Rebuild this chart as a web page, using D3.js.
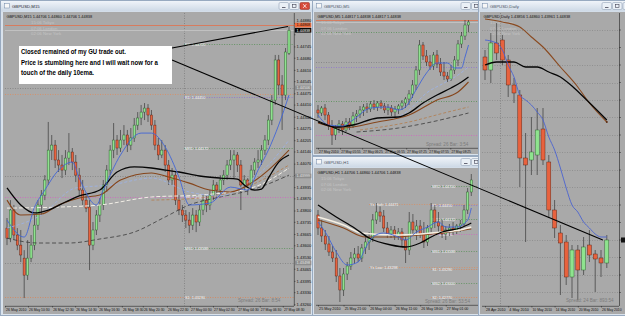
<!DOCTYPE html>
<html>
<head>
<meta charset="utf-8">
<style>
body{margin:0;background:#cfd9e4;overflow:hidden;}
svg{display:block;}
</style>
</head>
<body>
<script src="https://cdn.jsdelivr.net/npm/d3@7/dist/d3.min.js"></script>
<script>
// ---------- M15 ----------
const m15Candles = [
 [1.43699,1.43757,1.43601,1.43641],[1.43641,1.43860,1.43618,1.43803],[1.43803,1.43832,1.43630,1.43659],[1.43659,1.43699,1.43572,1.43601],
 [1.43601,1.43688,1.43503,1.43544],[1.43526,1.43572,1.43296,1.43428],[1.43428,1.43630,1.43400,1.43526],[1.43526,1.43659,1.43503,1.43601],
 [1.43601,1.43774,1.43572,1.43716],[1.43716,1.43860,1.43688,1.43832],[1.43832,1.43918,1.43774,1.43889],[1.43889,1.44004,1.43860,1.43976],
 [1.43976,1.44310,1.43947,1.44148],[1.44148,1.44235,1.44091,1.44177],[1.44177,1.44206,1.44045,1.44091],[1.44091,1.44148,1.44022,1.44062],
 [1.44062,1.44120,1.43987,1.44033],[1.44033,1.44148,1.44004,1.44102],[1.44102,1.44246,1.44062,1.44137],[1.44137,1.44160,1.44033,1.44079],
 [1.44079,1.44120,1.43964,1.44004],[1.44004,1.44045,1.43889,1.43918],[1.43918,1.43976,1.43832,1.43860],[1.43860,1.43889,1.43791,1.43814],
 [1.43820,1.43860,1.43457,1.43601],[1.43601,1.43734,1.43572,1.43688],[1.43688,1.43803,1.43659,1.43774],[1.43774,1.43872,1.43734,1.43832],
 [1.43832,1.43976,1.43803,1.43947],[1.43947,1.44062,1.43907,1.44033],[1.44033,1.44177,1.44004,1.44148],[1.44148,1.44304,1.44102,1.44206],
 [1.44206,1.44235,1.44120,1.44160],[1.44160,1.44264,1.44137,1.44206],[1.44206,1.44292,1.44177,1.44235],[1.44235,1.44264,1.44137,1.44177],
 [1.44177,1.44275,1.44148,1.44218],[1.44218,1.44333,1.44195,1.44292],[1.44292,1.44367,1.44264,1.44333],[1.44333,1.44408,1.44292,1.44367],
 [1.44367,1.44419,1.44321,1.44390],[1.44390,1.44413,1.44310,1.44350],[1.44350,1.44379,1.44264,1.44292],[1.44292,1.44321,1.44148,1.44177],
 [1.44177,1.44218,1.44091,1.44120],[1.44120,1.44206,1.44102,1.44148],[1.44148,1.44177,1.44022,1.44062],[1.44062,1.44091,1.43947,1.43976],
 [1.43976,1.44045,1.43947,1.44004],[1.44004,1.44022,1.43832,1.43860],[1.43860,1.43889,1.43774,1.43803],[1.43803,1.43832,1.43734,1.43774],
 [1.43774,1.43803,1.43699,1.43745],[1.43745,1.43791,1.43670,1.43716],[1.43716,1.43814,1.43688,1.43774],[1.43774,1.43803,1.43676,1.43734],
 [1.43734,1.43832,1.43711,1.43803],[1.43803,1.43889,1.43774,1.43860],[1.43860,1.43884,1.43791,1.43832],[1.43832,1.43918,1.43803,1.43889],
 [1.43889,1.43976,1.43860,1.43947],[1.43947,1.43964,1.43872,1.43918],[1.43918,1.44004,1.43895,1.43976],[1.43976,1.44033,1.43947,1.44004],
 [1.44004,1.44091,1.43976,1.44062],[1.44062,1.44148,1.44033,1.44091],[1.44091,1.44148,1.43987,1.44120],[1.44120,1.44137,1.44022,1.44062],
 [1.44062,1.44091,1.43803,1.43947],[1.43947,1.44004,1.43918,1.43976],[1.43976,1.43987,1.43889,1.43947],[1.43947,1.44062,1.43918,1.44033],
 [1.44033,1.44102,1.44004,1.44079],[1.44079,1.44148,1.44045,1.44091],[1.44091,1.44177,1.44062,1.44148],[1.44148,1.44235,1.44120,1.44206],
 [1.44206,1.44350,1.44177,1.44321],[1.44321,1.44465,1.44292,1.44436],[1.44436,1.44696,1.44408,1.44667],[1.44667,1.44696,1.44465,1.44523],
 [1.44523,1.44580,1.44264,1.44465],[1.44465,1.44736,1.44436,1.44713],[1.44706,1.44860,1.44696,1.44838]
];
const m15PriceTicks = [1.44880,1.44815,1.44745,1.44680,1.44610,1.44545,1.44475,1.44410,1.44340,1.44275,1.44205,1.44140,1.44070,
  1.44005,1.43935,1.43870,1.43800,1.43735,1.43665,1.43600,1.43530,1.43465,1.43395,1.43330,1.43260];
const m15TimeLabels = ["26 May 2010","26 May 10:30","26 May 12:30","26 May 14:30","26 May 16:30","26 May 18:30","26 May 20:30",
  "26 May 22:30","27 May 00:30","27 May 02:30","27 May 04:30","27 May 06:30","27 May 08:30"];
const m15TimeIdx = [-0.6,6.1,13.1,19.8,26.5,33.4,39.5,46.5,53.2,59.9,66.9,73.5,80.2];
const m15DayStart = 51.5;
const m15Blue = [[0,1.43745],[5,1.43647],[8,1.43820],[11,1.43918],[15,1.44033],[19,1.44079],[21,1.43987],[26,1.43832],[28,1.43918],
  [33,1.44120],[39,1.44246],[42,1.44246],[46,1.44166],[50,1.43993],[53,1.43832],[59,1.43843],[65,1.43935],[70,1.43918],[73,1.44033],
  [76,1.44148],[79,1.44292],[82,1.44465]];
const m15Black = [[0,1.43930],[4,1.43832],[8,1.43786],[12,1.43803],[17,1.43849],[21,1.43884],[27,1.43918],[32,1.44022],[37,1.44051],
  [42,1.44045],[46,1.44033],[50,1.44022],[56,1.43999],[62,1.43987],[67,1.43981],[69,1.43947],[72,1.43918],[74,1.43924],[76,1.43987],
  [79,1.44079],[82,1.44120]];
const m15Brown = [[0,1.43860],[4,1.43774],[10,1.43780],[15,1.43832],[21,1.43872],[27,1.43889],[33,1.43976],[42,1.44016],[47,1.43993],
  [53,1.43958],[59,1.43918],[65,1.43907],[71,1.43958],[76,1.44033],[80,1.44108],[82,1.44148]];
const m15LightBlue = [[0,1.43699],[10,1.43774],[20,1.43930],[30,1.43947],[42,1.43987],[53,1.43907],[62,1.43884],[71,1.43976],[76,1.44062],[82,1.44206]];
const m15WhiteDash = [[0,1.43814],[15,1.43820],[27,1.43832],[42,1.43878],[56,1.43889],[71,1.43930],[82,1.44045]];
const m15DarkDash = [[0,1.43641],[9,1.43613],[18,1.43613],[27,1.43636],[37,1.43676],[46,1.43763],[53,1.43832],[62,1.43878],[71,1.43918],[82,1.44004]];
const m15TanDash = [[42,1.43860],[56,1.43872],[71,1.43947],[82,1.44062]];
const m15Levels = [
  ["top",1.44868,"","all"],["bid",1.44838,"","all"],["R2",1.44759,"R2: 1.44755","day"],["H",1.44506,"","all"],
  ["YxHigh",1.44471,"","all"],["R1",1.44454,"R1: 1.44450","day"],["MR1",1.44160,"MR1: 1.44172","day"],["H",1.43999,"","all"],
  ["PP",1.43878,"PP: 1.43880","all"],["MS1",1.43584,"MS1: 1.43588","day"],["H",1.43498,"","all"],["S1",1.43302,"S1: 1.43290","all"]
];

// ---------- M5 ----------
const m5Candles = [
 [1.4394,1.4399,1.4386,1.4391],[1.4391,1.4398,1.4388,1.4396],[1.4396,1.4400,1.4384,1.4389],[1.4389,1.4392,1.4374,1.4378],
 [1.4378,1.4384,1.4359,1.4369],[1.4369,1.4379,1.4364,1.4376],[1.4376,1.4384,1.4371,1.4380],[1.4380,1.4383,1.4369,1.4374],
 [1.4374,1.4386,1.4372,1.4382],[1.4382,1.4386,1.4374,1.4378],[1.4378,1.4392,1.4376,1.4388],[1.4388,1.4394,1.4382,1.4390],
 [1.4390,1.4398,1.4386,1.4394],[1.4394,1.4400,1.4388,1.4397],[1.4397,1.4401,1.4391,1.4395],[1.4395,1.4403,1.4392,1.4400],
 [1.4400,1.4404,1.4394,1.4397],[1.4397,1.4403,1.4393,1.4401],[1.4401,1.4404,1.4395,1.4398],[1.4398,1.4401,1.4391,1.4394],
 [1.4394,1.4400,1.4389,1.4396],[1.4396,1.4399,1.4388,1.4392],[1.4392,1.4398,1.4386,1.4395],[1.4395,1.4400,1.4390,1.4398],
 [1.4398,1.4404,1.4394,1.4401],[1.4401,1.4407,1.4396,1.4405],[1.4405,1.4414,1.4399,1.4410],[1.4410,1.4424,1.4406,1.4419],
 [1.4419,1.4438,1.4414,1.4434],[1.4434,1.4464,1.4429,1.4459],[1.4459,1.4462,1.4444,1.4448],[1.4448,1.4454,1.4438,1.4442],
 [1.4442,1.4449,1.4434,1.4438],[1.4438,1.4452,1.4434,1.4449],[1.4449,1.4454,1.4436,1.4440],[1.4440,1.4446,1.4428,1.4432],
 [1.4432,1.4442,1.4424,1.4428],[1.4428,1.4432,1.4422,1.4425],[1.4425,1.4439,1.4423,1.4434],[1.4434,1.4448,1.4430,1.4444],
 [1.4444,1.4464,1.4438,1.4460],[1.4460,1.4472,1.4456,1.4468],[1.4468,1.4484,1.4464,1.4479],[1.4479,1.4484,1.4472,1.4482]
];
const m5TimeLabels = ["27 May 2010","27 May 05:55","27 May 06:25","27 May 06:55","27 May 07:25","27 May 07:55","27 May 08:25"];
const m5TimeIdx = [0,6.3,12.6,18.9,25.2,31.5,37.8];
const m5Blue = [[0,1.4389],[3,1.4379],[7,1.4378],[10,1.4384],[15,1.4396],[20,1.4397],[23,1.4394],[25,1.4397],[28,1.4414],[31,1.4431],
  [34,1.4441],[37,1.4441],[39,1.4436],[41,1.4436],[42,1.4447],[43,1.4459]];
const m5LightBlue = [[21,1.4384],[26,1.4394],[31,1.4411],[36,1.4421],[40,1.4429],[43,1.4437]];
const m5Black = [[0,1.4382],[5,1.4377],[10,1.4379],[17,1.4386],[23,1.4387],[26,1.4391],[30,1.4401],[34,1.4409],[38,1.4416],[41,1.4422],[43,1.4427]];
const m5Brown = [[0,1.4381],[7,1.4376],[17,1.4382],[26,1.4389],[34,1.4404],[40,1.4412],[43,1.4422]];
const m5TanDash = [[12,1.4374],[26,1.4382],[36,1.4391],[43,1.4397]];
const m5DarkDash = [[11,1.4372],[23,1.4376],[31,1.4381],[43,1.4391]];
const m5Levels = [["top",1.4484,"","all"],["bid",1.4482,"","all"],["R2",1.4472,"","all"],["H",1.4442,"","all"],
  ["R1",1.4437,"","all"],["MR1",1.4403,"","all"],["PP",1.4369,"","all"]];

// ---------- H1 ----------
const h1Candles = [
 [1.4410,1.4420,1.4370,1.4384],[1.4384,1.4400,1.4356,1.4368],[1.4368,1.4380,1.4340,1.4352],[1.4352,1.4368,1.4328,1.4336],
 [1.4336,1.4348,1.4316,1.4324],[1.4324,1.4340,1.4276,1.4288],[1.4288,1.4304,1.4236,1.4260],[1.4260,1.4304,1.4248,1.4292],
 [1.4292,1.4316,1.4280,1.4308],[1.4308,1.4336,1.4300,1.4324],[1.4324,1.4344,1.4312,1.4332],[1.4332,1.4348,1.4316,1.4324],
 [1.4324,1.4352,1.4316,1.4344],[1.4344,1.4368,1.4332,1.4356],[1.4356,1.4376,1.4340,1.4364],[1.4364,1.4412,1.4356,1.4400],
 [1.4400,1.4434,1.4392,1.4416],[1.4416,1.4428,1.4396,1.4408],[1.4408,1.4420,1.4376,1.4384],[1.4384,1.4396,1.4364,1.4372],
 [1.4372,1.4388,1.4364,1.4380],[1.4380,1.4388,1.4360,1.4368],[1.4368,1.4384,1.4360,1.4376],[1.4376,1.4384,1.4348,1.4360],
 [1.4360,1.4368,1.4314,1.4340],[1.4340,1.4416,1.4330,1.4396],[1.4396,1.4412,1.4368,1.4380],[1.4380,1.4400,1.4360,1.4388],
 [1.4388,1.4400,1.4364,1.4372],[1.4372,1.4396,1.4344,1.4356],[1.4356,1.4390,1.4348,1.4384],[1.4384,1.4434,1.4376,1.4420],
 [1.4420,1.4430,1.4384,1.4396],[1.4396,1.4416,1.4376,1.4388],[1.4388,1.4400,1.4364,1.4372],[1.4372,1.4388,1.4360,1.4380],
 [1.4380,1.4392,1.4368,1.4384],[1.4384,1.4396,1.4370,1.4378],[1.4378,1.4392,1.4372,1.4388],[1.4388,1.4400,1.4376,1.4392],
 [1.4392,1.4430,1.4388,1.4420],[1.4420,1.4464,1.4412,1.4456],[1.4456,1.4492,1.4448,1.4480]
];
const h1TimeLabels = ["25 May 2010","25 May 21:00","26 May 04:00","26 May 11:00","26 May 18:00","27 May 01:00"];
const h1TimeIdx = [0,7,14,21,28,35];
const h1DayStart = 31, h1YxStart = 14;
const h1Black = [[0,1.4430],[5,1.4406],[10,1.4384],[14,1.4364],[20,1.4350],[24,1.4346],[28,1.4354],[31,1.4366],[34,1.4376],[39,1.4384],[42,1.4394]];
const h1White = [[0,1.4406],[7,1.4390],[12,1.4374],[21,1.4370],[28,1.4372],[34,1.4376],[39,1.4380],[42,1.4386]];
const h1Brown = [[0,1.4400],[7,1.4384],[13,1.4366],[21,1.4366],[28,1.4370],[34,1.4374],[42,1.4382]];
const h1Blue = [[0,1.4396],[2,1.4376],[5,1.4336],[8,1.4310],[11,1.4316],[13,1.4344],[15,1.4366],[18,1.4374],[22,1.4366],[24,1.4360],
  [27,1.4376],[30,1.4386],[33,1.4396],[35,1.4386],[38,1.4386],[41,1.4400],[42,1.4424]];
const h1Levels = [
  ["MR2",1.4468,"MR2: 1.44700","day"],["YxHigh",1.4432,"Yx High: 1.44471","yx"],["R1",1.4430,"R1: 1.44450","day"],
  ["MR1",1.4402,"MR1: 1.44172","day"],["PP",1.4372,"PP: 1.43880","day"],["MS1",1.4338,"MS1: 1.43588","day"],
  ["YxLow",1.4306,"Yx Low: 1.43298","yx"],["S1",1.4302,"S1: 1.43290","day"],["MS2",1.4274,"MS2: 1.43000","day"],
  ["S2",1.4246,"S2: 1.42770","day"]
];

// ---------- Daily ----------
const dailyCandles = [
 [1.5212,1.5240,1.5120,1.5160],[1.5160,1.5308,1.5108,1.5268],[1.5268,1.5348,1.5200,1.5228],[1.5280,1.5300,1.5180,1.5200],
 [1.5200,1.5220,1.5052,1.5100],[1.5100,1.5128,1.5028,1.5068],[1.5060,1.5080,1.4692,1.4808],[1.4808,1.4908,1.4472,1.4780],
 [1.4800,1.4972,1.4740,1.4832],[1.4820,1.5008,1.4740,1.4920],[1.4924,1.5008,1.4780,1.4800],[1.4792,1.4820,1.4568,1.4600],
 [1.4600,1.4640,1.4488,1.4528],[1.4508,1.4540,1.4260,1.4468],[1.4472,1.4500,1.4300,1.4332],[1.4332,1.4460,1.4248,1.4440],
 [1.4440,1.4460,1.4240,1.4360],[1.4360,1.4492,1.4340,1.4452],[1.4460,1.4520,1.4392,1.4420],[1.4424,1.4440,1.4272,1.4404],
 [1.4408,1.4440,1.4332,1.4388],[1.4388,1.4500,1.4368,1.4480]
];
const dailyTimeLabels = ["28 Apr 2010","4 May 2010","10 May 2010","14 May 2010","20 May 2010","26 May 2010"];
const dailyTimeIdx = [0,4,8,12,16,20];
const dailyMonthStart = 2.5;
const dailyGrid = [1.5320,1.5250,1.5180,1.5110,1.5040,1.4970,1.4900,1.4830,1.4760,1.4690,1.4620,1.4550,1.4480,1.4410,1.4340,1.4270];
const dailyBlue = [[0,1.5280],[2,1.5268],[3,1.5240],[4,1.5180],[5,1.5132],[6,1.5060],[7,1.5040],[8,1.5020],[9,1.4992],[10,1.4960],
  [11,1.4892],[12,1.4840],[13,1.4768],[14,1.4688],[15,1.4620],[16,1.4592],[17,1.4552],[18,1.4528],[19,1.4504],[20,1.4492],[21,1.4492]];
const dailyBlack = [[0,1.5180],[2,1.5192],[5,1.5192],[7,1.5172],[9,1.5172],[11,1.5152],[13,1.5132],[15,1.5096],[17,1.5052],[21,1.4960]];
const dailyBrown = [[0,1.5364],[3,1.5352],[6,1.5332],[8,1.5292],[10,1.5252],[13,1.5172],[16,1.5092],[18,1.5028],[21,1.4952]];

const sessions = ["15:06 Tokyo","07:06 London","02:06 New York"];
const noteLines = ["Closed remained of my GU trade out.","Price is stumbling here and I will wait now for a","touch of the daily 10ema."];

// ---------- drawing ----------
const FONT = "'Liberation Sans', Arial, sans-serif";
const BG = "#a9a9a9";
const svg = d3.select("body").append("svg").attr("width",625).attr("height",316).style("font-family",FONT);
const defs = svg.append("defs");
const tg = defs.append("linearGradient").attr("id","tb").attr("x1",0).attr("y1",0).attr("x2",0).attr("y2",1);
tg.append("stop").attr("offset",0).attr("stop-color","#f0f4f9");
tg.append("stop").attr("offset",1).attr("stop-color","#ccd8e5");
svg.append("rect").attr("width",625).attr("height",316).attr("fill","#cfd9e4");

const lineStyle = {
  blue:{c:"#4265d6",w:0.9,d:null}, black:{c:"#050505",w:1.3,d:null}, brown:{c:"#86461c",w:1.1,d:null},
  white:{c:"#f5efe2",w:1.6,d:null}, lightblue:{c:"#9cb2ea",w:0.8,d:"3,2"}, whitedash:{c:"#f2eee6",w:1,d:"4,2"},
  darkdash:{c:"#3a3a3a",w:0.8,d:"4,2.5"}, tandash:{c:"#b27c4c",w:0.8,d:"3,2"}, dblue:{c:"#4b63d0",w:0.9,d:null},
  dbrown:{c:"#8a4a20",w:1.1,d:null}
};
const levelStyle = {
  top:{c:"#e2714c",d:null,w:0.8}, bid:{c:"#d2d2d2",d:null,w:0.6}, H:{c:"#7a7a7a",d:"1,1.5",w:0.7},
  YxHigh:{c:"#e38a58",d:"1,1.5",w:0.7}, YxLow:{c:"#e38a58",d:"1,1.5",w:0.7},
  R2:{c:"#4b8c4b",d:"1,1.5",w:0.7}, MR2:{c:"#4b8c4b",d:"1,1.5",w:0.7}, MR1:{c:"#4b8c4b",d:"1,1.5",w:0.7},
  MS1:{c:"#4b8c4b",d:"1,1.5",w:0.7}, MS2:{c:"#4b8c4b",d:"1,1.5",w:0.7},
  R1:{c:"#8a6cd2",d:"1,1.5",w:0.7}, PP:{c:"#d55cc4",d:"1,1.5",w:0.7},
  S1:{c:"#e0804a",d:"1,1.5",w:0.7}, S2:{c:"#e0804a",d:"1,1.5",w:0.7}
};

function frame(x, y, w, h, title, active) {
  const g = svg.append("g");
  g.append("rect").attr("x",x+0.5).attr("y",y+0.5).attr("width",w-1).attr("height",h-1)
    .attr("fill","#d9e2ec").attr("stroke","#98aac0");
  g.append("rect").attr("x",x+1).attr("y",y+1).attr("width",w-2).attr("height",10.5).attr("fill","url(#tb)");
  g.append("rect").attr("x",x+4.5).attr("y",y+3.5).attr("width",5).attr("height",4.5)
    .attr("fill","#f7f7f7").attr("stroke","#6f86a6").attr("stroke-width",0.5);
  g.append("text").attr("x",x+12).attr("y",y+8).attr("font-size",4.3)
    .attr("fill",active ? "#1e2530" : "#4c5564").text(title);
  const bx = x + w - 34;
  ["min","max","close"].forEach((b, k) => {
    const rx = bx + k * 10.5;
    const red = b === "close" && active;
    g.append("rect").attr("x",rx).attr("y",y+2.5).attr("width",9.5).attr("height",7).attr("rx",1.3)
      .attr("fill",red ? "#d64a3a" : "#eaf0f6").attr("stroke",red ? "#8e2a20" : "#8797ad").attr("stroke-width",0.5);
    const gc = red ? "#fff" : "#445";
    if (b === "min") g.append("line").attr("x1",rx+3).attr("x2",rx+6.5).attr("y1",y+7.5).attr("y2",y+7.5).attr("stroke",gc).attr("stroke-width",0.8);
    if (b === "max") g.append("rect").attr("x",rx+3).attr("y",y+4.3).attr("width",3.5).attr("height",3.2).attr("fill","none").attr("stroke",gc).attr("stroke-width",0.6);
    if (b === "close") g.append("path").attr("d",`M${rx+3.2},${y+4.2}L${rx+6.3},${y+7.8}M${rx+6.3},${y+4.2}L${rx+3.2},${y+7.8}`).attr("stroke",gc).attr("stroke-width",0.8);
  });
}

let clipN = 0;
function chart(c) {
  const g = svg.append("g");
  g.append("rect").attr("x",c.client[0]).attr("y",c.client[1]).attr("width",c.client[2]).attr("height",c.client[3]).attr("fill",BG);
  const x = d3.scaleLinear().domain(c.xDomain).range(c.xRange);
  const y = d3.scaleLinear().domain(c.yDomain).range(c.yRange);
  const id = "cp" + (clipN++);
  defs.append("clipPath").attr("id",id).append("rect")
    .attr("x",c.plot[0]).attr("y",c.plot[1]).attr("width",c.plot[2]-c.plot[0]).attr("height",c.plot[3]-c.plot[1]);
  const p = g.append("g").attr("clip-path",`url(#${id})`);

  // grid and separators
  (c.grid || []).forEach(v => {
    p.append("line").attr("x1",c.plot[0]).attr("x2",c.plot[2]).attr("y1",Math.round(y(v))+0.5).attr("y2",Math.round(y(v))+0.5)
      .attr("stroke","#7f7f7f").attr("stroke-width",0.6).attr("stroke-dasharray","1,1.5");
  });
  (c.seps || []).forEach(v => {
    p.append("line").attr("x1",Math.round(x(v))+0.5).attr("x2",Math.round(x(v))+0.5).attr("y1",c.plot[1]).attr("y2",c.plot[3])
      .attr("stroke","#6f6f6f").attr("stroke-width",0.6).attr("stroke-dasharray","1,1.5");
  });
  // level lines
  (c.levels || []).forEach(L => {
    const st = levelStyle[L[0]];
    const x0 = L[3] === "day" ? x(c.dayStart) : L[3] === "yx" ? x(c.yxStart) : c.plot[0];
    const yy = Math.round(y(L[1])) + 0.5;
    p.append("line").attr("x1",x0).attr("x2",c.plot[2]).attr("y1",yy).attr("y2",yy)
      .attr("stroke",st.c).attr("stroke-width",st.w).attr("stroke-dasharray",st.d);
    if (L[2]) {
      const lx = L[3] === "yx" ? x(c.yxStart) : x(c.dayStart);
      p.append("text").attr("x",lx+1).attr("y",yy+1.3).attr("font-size",3.7).attr("fill","#f4f4f4").text(L[2]);
    }
  });
  // session texts
  sessions.forEach((s, i) => {
    p.append("text").attr("x",c.plot[0]+c.sessX).attr("y",c.plot[1]+11+i*5.6).attr("font-size",4.3).attr("fill","#c4c4c4").text(s);
  });
  // candles
  const cg = p.append("g");
  cg.selectAll("line").data(c.candles).join("line")
    .attr("x1",(d,i)=>x(i)).attr("x2",(d,i)=>x(i)).attr("y1",d=>y(d[1])).attr("y2",d=>y(d[2]))
    .attr("stroke","#262626").attr("stroke-width",0.6);
  cg.selectAll("rect").data(c.candles).join("rect")
    .attr("x",(d,i)=>x(i)-c.bw/2).attr("width",c.bw)
    .attr("y",d=>y(Math.max(d[0],d[3])))
    .attr("height",d=>Math.max(0.8,Math.abs(y(d[0])-y(d[3]))))
    .attr("fill",d=>d[3]>=d[0] ? "#8ee38e" : "#e8623e")
    .attr("stroke",d=>d[3]>=d[0] ? "#2f5a2f" : "#5a2416").attr("stroke-width",0.45);
  // moving averages
  const ln = d3.line().x(d=>x(d[0])).y(d=>y(d[1])).curve(d3.curveMonotoneX);
  (c.mas || []).forEach(m => {
    const st = lineStyle[m[1]];
    p.append("path").attr("d",ln(m[0])).attr("fill","none").attr("stroke",st.c)
      .attr("stroke-width",st.w).attr("stroke-dasharray",st.d);
  });
  // info line + spread
  g.append("text").attr("x",c.plot[0]+1.5).attr("y",c.plot[1]+5).attr("font-size",3.9).attr("fill","#101010").text(c.info);
  g.append("text").attr("x",c.spread[0]).attr("y",c.spread[1]).attr("font-size",4.6).attr("fill","#7c7c7c").text(c.spreadText);
  // time axis
  const xa = d3.axisBottom(x).tickValues(c.timeIdx).tickFormat((d,i)=>c.timeLabels[i]).tickSize(1.5).tickPadding(1);
  const gx = g.append("g").attr("transform",`translate(0,${c.plot[3]})`).call(xa);
  gx.select(".domain").attr("stroke","#222").attr("stroke-width",0.6).attr("d",`M${c.plot[0]},0.3H${c.plot[2]}`);
  gx.selectAll("line").attr("stroke","#222").attr("stroke-width",0.5);
  gx.selectAll("text").attr("font-size",3.8).attr("font-family",FONT).attr("fill","#111").attr("text-anchor","start").attr("dx",0.6)
    .attr("textLength",c.labelW).attr("lengthAdjust","spacingAndGlyphs");
  // price axis
  if (c.priceTicks) {
    const marks = (c.levels || []).filter(L => ["top","bid","H"].includes(L[0]));
    const ya = d3.axisRight(y).tickValues(c.priceTicks).tickFormat(d3.format(".5f")).tickSize(1.5).tickPadding(1);
    const gy = g.append("g").attr("transform",`translate(${c.plot[2]},0)`).call(ya);
    gy.select(".domain").attr("stroke","#222").attr("stroke-width",0.6).attr("d",`M0.3,${c.plot[1]}V${c.plot[3]}`);
    gy.selectAll("line").attr("stroke","#222").attr("stroke-width",0.5);
    gy.selectAll("text").attr("font-size",4.1).attr("font-family",FONT).attr("fill","#111");
    // a tick label that collides with a highlighted price is lifted above it, or dropped if it is the same level
    gy.selectAll(".tick").each(function(v) {
      const ty = y(v);
      const near = marks.map(L => y(L[1])).filter(my => Math.abs(my - ty) < 4.8);
      if (!near.length) return;
      const top = Math.min(...near);
      if (ty < top - 1.5) d3.select(this).select("text").attr("dy", (top - 4.9 - ty + 1.4) + "px");
      else d3.select(this).select("text").remove();
    });
    marks.forEach(L => {
      const yy = y(L[1]);
      const fill = L[0]==="top" ? "#f06a3c" : L[0]==="bid" ? "#050505" : "#8d8d8d";
      g.append("rect").attr("x",c.plot[2]+0.8).attr("y",yy-2.3).attr("width",16.5).attr("height",4.6).attr("fill",fill);
      g.append("text").attr("x",c.plot[2]+2.5).attr("y",yy+1.4).attr("font-size",3.8)
        .attr("fill",L[0]==="bid" ? "#fff" : L[0]==="top" ? "#111" : "#e4e4e4").text(d3.format(".5f")(L[1]));
    });
  }
  if (c.axisMarks) {
    g.append("line").attr("x1",c.plot[2]+0.5).attr("x2",c.plot[2]+0.5).attr("y1",c.plot[1]).attr("y2",c.plot[3]).attr("stroke","#222").attr("stroke-width",0.6);
    c.axisMarks.forEach(v => g.append("line").attr("x1",c.plot[2]).attr("x2",c.plot[2]+2).attr("y1",y(v)).attr("y2",y(v)).attr("stroke","#222").attr("stroke-width",0.5));
  }
  return {x, y};
}

// M15 window
frame(0, 0, 313, 316, "GBPUSD,M15", true);
const m15 = chart({
  client:[3,12,308,302], plot:[5,13,294,306], xDomain:[0,82], xRange:[7,289],
  yDomain:[1.43256,1.44880], yRange:[305,23], candles:m15Candles, bw:2.2,
  levels:m15Levels, dayStart:m15DayStart, seps:[m15DayStart], sessX:26,
  mas:[[m15DarkDash,"darkdash"],[m15WhiteDash,"whitedash"],[m15TanDash,"tandash"],[m15LightBlue,"lightblue"],
       [m15Brown,"brown"],[m15Black,"black"],[m15Blue,"blue"]],
  info:"GBPUSD,M15  1.44706 1.44860 1.44706 1.44838", spread:[238,302], spreadText:"Spread: 26    Bar: 8:54",
  timeLabels:m15TimeLabels, timeIdx:m15TimeIdx, labelW:20.5, priceTicks:m15PriceTicks
});

// M5 window
frame(312, 0, 183, 156, "GBPUSD,M5", false);
chart({
  client:[314,12,164,142], plot:[316,13,480,148], xDomain:[0,43], xRange:[318,468.5],
  yDomain:[1.4356,1.4492], yRange:[148,12], candles:m5Candles, bw:2.2,
  levels:m5Levels, sessX:5,
  mas:[[m5DarkDash,"darkdash"],[m5TanDash,"tandash"],[m5LightBlue,"lightblue"],[m5Brown,"brown"],[m5Black,"black"],[m5Blue,"blue"]],
  info:"GBPUSD,M5  1.44817 1.44838 1.44817 1.44838", spread:[426,146], spreadText:"Spread: 26    Bar: 3:54",
  timeLabels:m5TimeLabels, timeIdx:m5TimeIdx, labelW:19.5
});

// H1 window
frame(312, 156, 183, 160, "GBPUSD,H1", false);
chart({
  client:[314,168,164,146], plot:[316,169,480,305], xDomain:[0,42], xRange:[318,471.3],
  yDomain:[1.4230,1.4502], yRange:[305,169], candles:h1Candles, bw:2.2,
  levels:h1Levels, dayStart:h1DayStart, yxStart:h1YxStart, sessX:5,
  mas:[[h1Brown,"brown"],[h1White,"white"],[h1Black,"black"],[h1Blue,"blue"]],
  info:"GBPUSD,H1  1.44706 1.44860 1.44706 1.44838", spread:[425,303], spreadText:"Spread: 26    Bar: 53:54",
  timeLabels:h1TimeLabels, timeIdx:h1TimeIdx, labelW:21.5
});

// Daily window
frame(478, 0, 158, 316, "GBPUSD,Daily", false);
const dly = chart({
  client:[480,12,145,302], plot:[482,13,619,306], xDomain:[0,21], xRange:[485,606.8],
  yDomain:[1.4220,1.5384], yRange:[305,14], candles:dailyCandles, bw:4,
  grid:dailyGrid, seps:[dailyMonthStart], sessX:8,
  mas:[[dailyBrown,"dbrown"],[dailyBlack,"black"],[dailyBlue,"dblue"]],
  info:"GBPUSD,Daily  1.43856 1.44860 1.43961 1.44838", spread:[566,302], spreadText:"Spread: 24  Bar: 893:54",
  timeLabels:dailyTimeLabels, timeIdx:dailyTimeIdx, labelW:19.5, axisMarks:dailyGrid
});
svg.append("circle").attr("cx",dly.x(dailyBrown[dailyBrown.length-1][0])).attr("cy",dly.y(dailyBrown[dailyBrown.length-1][1]))
  .attr("r",1).attr("fill","#5a2a10");
svg.append("rect").attr("x",621).attr("y",dly.y(dailyCandles[21][3])-2.5).attr("width",4).attr("height",5).attr("fill","#111");

// annotation
const ann = svg.append("g");
ann.append("line").attr("x1",172).attr("y1",48).attr("x2",m15.x(82)-1).attr("y2",m15.y(m15Candles[82][1]))
  .attr("stroke","#000").attr("stroke-width",1.1);
ann.append("line").attr("x1",172).attr("y1",60).attr("x2",dly.x(21)-4).attr("y2",dly.y(dailyCandles[21][3]))
  .attr("stroke","#000").attr("stroke-width",1.1);
ann.append("rect").attr("x",19).attr("y",46).attr("width",153).attr("height",38).attr("fill","#fff");
const noteW = [105,137,73];
noteLines.forEach((t, i) => {
  ann.append("text").attr("x",21).attr("y",54+i*10.5).attr("font-size",6.6).attr("font-weight","bold")
    .attr("fill","#000").attr("textLength",noteW[i]).attr("lengthAdjust","spacingAndGlyphs").text(t);
});
</script>
</body>
</html>
